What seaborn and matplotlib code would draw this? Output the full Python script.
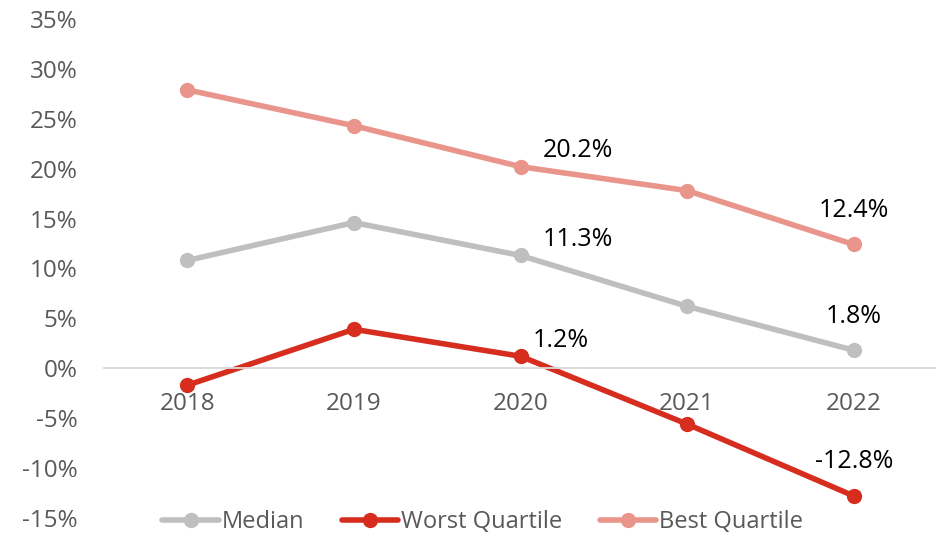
import pandas as pd
import matplotlib.pyplot as plt
import seaborn as sns

years = [2018, 2019, 2020, 2021, 2022]
median = [10.8, 14.6, 11.3, 6.2, 1.8]
worst = [-1.7, 3.9, 1.2, -5.6, -12.8]
best = [27.9, 24.3, 20.2, 17.8, 12.4]

series_names = ["Median", "Worst Quartile", "Best Quartile"]
colors = ["#BFBFBF", "#D62D1F", "#E9958B"]

df = pd.DataFrame({
    "Year": years * 3,
    "Value": median + worst + best,
    "Series": [s for s in series_names for _ in years],
})

sns.set_style("white")
plt.rcParams["font.family"] = ["Open Sans", "DejaVu Sans"]

fig = plt.figure(figsize=(9.37, 5.35), dpi=100)
ax = fig.add_axes([0.111, 0.032, 0.889, 0.9325])

sns.lineplot(data=df, x="Year", y="Value", hue="Series", hue_order=series_names,
             palette=colors, marker="o", markersize=11, markeredgewidth=0,
             linewidth=4, ax=ax, legend=True)

ax.set_xlim(2017.5, 2022.5)
ax.set_ylim(-15, 35)
ax.set_yticks(range(-15, 36, 5))
ax.set_yticklabels([f"{v}%" for v in range(-15, 36, 5)])
ax.set_xticks(years)
ax.set_xticklabels([str(y) for y in years])
ax.set_xlabel("")
ax.set_ylabel("")

for s in ["top", "right", "left"]:
    ax.spines[s].set_visible(False)
ax.spines["bottom"].set_position(("data", 0))
ax.spines["bottom"].set_color("#D9D9D9")
ax.spines["bottom"].set_linewidth(1.3)
ax.tick_params(axis="both", length=0, labelsize=17.5, labelcolor="#595959")
ax.tick_params(axis="x", pad=17)
ax.tick_params(axis="y", pad=19)

# data labels: 2020 and 2022
for vals in [best, median, worst]:
    ax.annotate(f"{vals[2]:.1f}%", (years[2], vals[2]), xytext=(57 if vals is not worst else 40, 16),
                textcoords="offset pixels", ha="center", va="center", fontsize=18, color="black")
    ax.annotate(f"{vals[4]:.1f}%", (years[4], vals[4]), xytext=(0, 34),
                textcoords="offset pixels", ha="center", va="center", fontsize=18, color="black")

handles, labels = ax.get_legend_handles_labels()
ax.get_legend().remove()
fig.legend(handles, labels, loc="center", bbox_to_anchor=(0.515, 0.024), ncol=3,
           frameon=False, fontsize=17, labelcolor="#595959", handlelength=2.4,
           handletextpad=0.1, columnspacing=1.6, borderpad=0.2)

fig.savefig("out.png", dpi=100)
